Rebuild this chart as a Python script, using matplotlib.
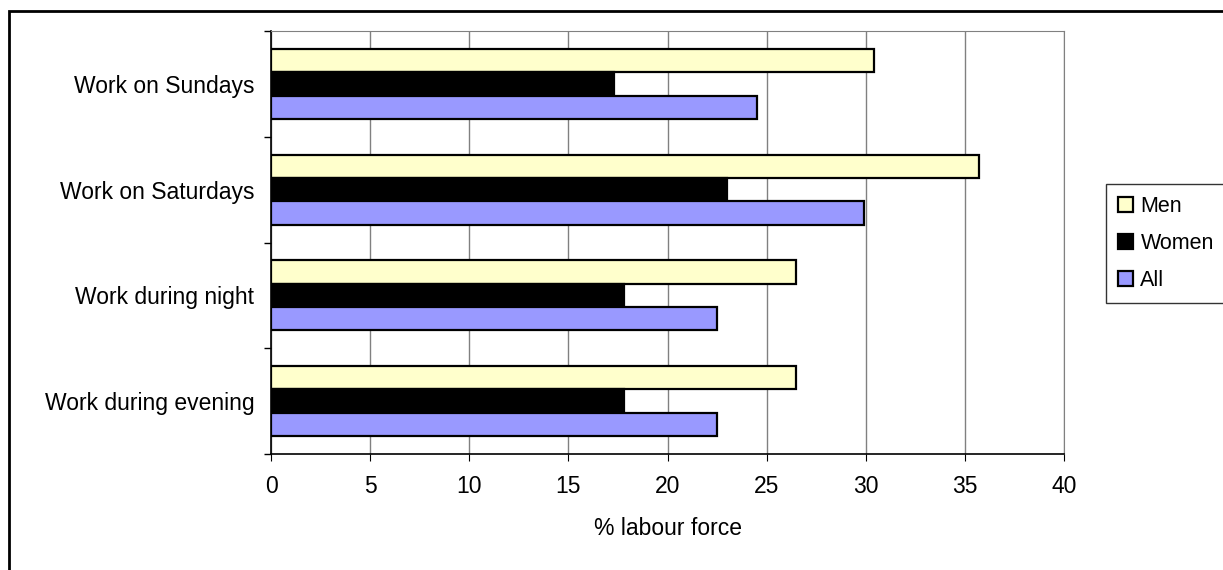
import numpy as np
import matplotlib
matplotlib.use("Agg")
import matplotlib.pyplot as plt
from matplotlib.patches import Rectangle

plt.rcParams['font.family'] = ['Liberation Sans', 'DejaVu Sans']

categories = ['Work during evening', 'Work during night', 'Work on Saturdays', 'Work on Sundays']
men = [26.5, 26.5, 35.7, 30.4]
women = [17.8, 17.8, 23.0, 17.3]
all_ = [22.5, 22.5, 29.9, 24.5]
series = ['Men', 'Women', 'All']
colors = ['#FFFFCC', '#000000', '#9999FF']

W, H = 1223, 570
fig = plt.figure(figsize=(W / 100, H / 100), dpi=100)
ax = fig.add_axes([271 / W, 1 - 454 / H, (1064 - 271) / W, (454 - 31) / H])

y = np.arange(len(categories))
h = 0.22
vals = [men, women, all_]
for i, (lab, v, c) in enumerate(zip(series, vals, colors)):
    ax.barh(y + (1 - i) * h, v, height=h, color=c, edgecolor='black',
            linewidth=1.6, label=lab, zorder=3)

ax.set_xlim(0, 40)
ax.set_ylim(-0.5, 3.5)
ax.set_xticks(range(0, 41, 5))
ax.set_yticks(y)
ax.set_yticklabels(categories)
ax.set_yticks(np.arange(-0.5, 3.6, 1), minor=True)
ax.tick_params(axis='y', which='major', length=0, pad=12, labelsize=16.5)
ax.tick_params(axis='y', which='minor', length=5, width=1)
ax.tick_params(axis='x', length=5, labelsize=16.5, pad=10)
ax.grid(axis='x', color='#808080', linewidth=1, zorder=0)
for s in ['top', 'right']:
    ax.spines[s].set_color('#808080')
for s in ['left', 'bottom']:
    ax.spines[s].set_linewidth(1.2)
ax.set_xlabel('% labour force', fontsize=16.5, labelpad=14)

leg = ax.legend(loc='upper left', bbox_to_anchor=(1106 / W, 1 - 184 / H),
                bbox_transform=fig.transFigure, frameon=True, fancybox=False,
                edgecolor='black', fontsize=15.5, handlelength=0.7, handleheight=0.7,
                handletextpad=0.35, labelspacing=0.75, borderpad=0.55, borderaxespad=0)
leg.get_frame().set_linewidth(1)

fig.patches.append(Rectangle((9 / W, -0.1), 1.2, 0.1 + 1 - 11 / H, transform=fig.transFigure,
                             fill=False, edgecolor='black', linewidth=2))

fig.savefig('out.png', dpi=100)
